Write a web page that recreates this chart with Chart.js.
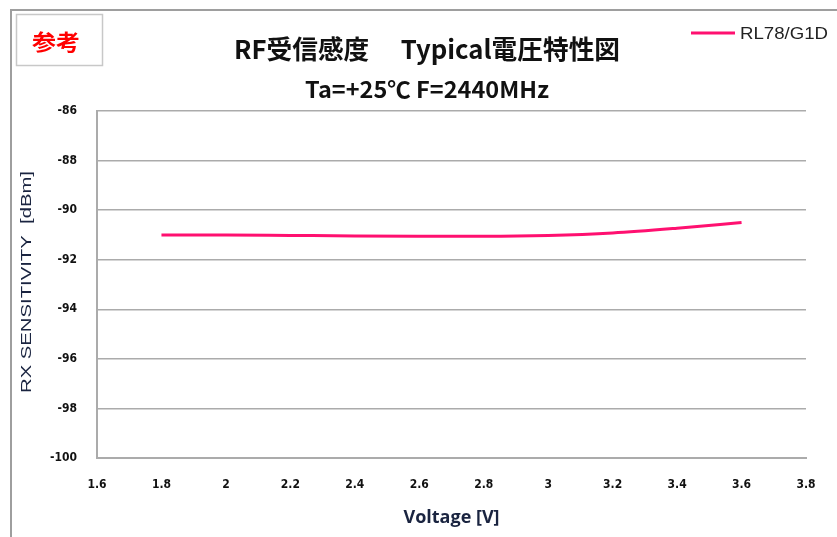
<!DOCTYPE html>
<html>
<head>
<meta charset="utf-8">
<script src="https://cdn.jsdelivr.net/npm/chart.js@4/dist/chart.umd.min.js"></script>
<style>
  html, body { margin: 0; padding: 0; background: #fff; }
  #wrap { position: relative; width: 837px; height: 537px; }
  canvas { display: block; }
</style>
</head>
<body>
<div id="wrap"><canvas id="c" width="837" height="537"></canvas></div>
<script>
// Supply voltage (V) and measured RX sensitivity (dBm)
const voltages = [1.8, 2.0, 2.2, 2.4, 2.6, 2.8, 3.0, 3.2, 3.4, 3.6];
const sensitivity = [-91.0, -91.0, -91.02, -91.04, -91.05, -91.05, -91.02, -90.92, -90.73, -90.5];

const seriesName = 'RL78/G1D';
const titleText = 'RF受信感度\u3000 Typical電圧特性図';
const subtitleText = 'Ta=+25\u2103 F=2440MHz';
const stampText = '参考';
const xAxisTitle = 'Voltage [V]';
const yAxisTitle = 'RX SENSITIVITY  [dBm]';

const lineColor = '#ff1070';
const gridColor = '#ababab';
const tickFont = { family: "'Liberation Sans Narrow', 'DejaVu Sans Condensed', 'Liberation Sans', sans-serif", size: 12, weight: 'bold' };
const jpFont = "'Noto Sans CJK JP', 'Noto Sans', sans-serif";

// Write text centred at (x, y), squeezed or stretched horizontally to a given width
function fitText(ctx, text, x, y, width, align) {
  const w = ctx.measureText(text).width;
  const k = width / w;
  ctx.save();
  ctx.translate(x, y);
  ctx.scale(k, 1);
  ctx.textAlign = align || 'center';
  ctx.fillText(text, 0, 0);
  ctx.restore();
}

// Frame, stamp box, titles and legend drawn around the plot
const decorations = {
  id: 'decorations',
  beforeDraw(chart) {
    const ctx = chart.ctx;
    ctx.save();
    ctx.fillStyle = '#fff';
    ctx.fillRect(0, 0, chart.width, chart.height);
    // outer frame
    ctx.strokeStyle = '#9e9e9e';
    ctx.lineWidth = 2;
    ctx.beginPath();
    ctx.moveTo(11, chart.height);
    ctx.lineTo(11, 10);
    ctx.lineTo(chart.width, 10);
    ctx.stroke();
    ctx.restore();
  },
  afterDraw(chart) {
    const ctx = chart.ctx;
    ctx.save();
    ctx.textBaseline = 'middle';

    // stamp box
    ctx.strokeStyle = '#c8c8c8';
    ctx.lineWidth = 1.5;
    ctx.strokeRect(16.5, 14.5, 86, 51);
    ctx.fillStyle = '#ff0000';
    ctx.font = "bold 22px " + jpFont;
    fitText(ctx, stampText, 56, 42, 48);

    // title and subtitle
    ctx.fillStyle = '#111';
    ctx.font = "bold 26px " + jpFont;
    fitText(ctx, titleText, 427, 49, 386);
    ctx.font = "bold 23px " + jpFont;
    fitText(ctx, subtitleText, 427, 89, 244);

    // vertical axis title
    ctx.fillStyle = '#1a2440';
    ctx.font = "14px 'Liberation Sans', sans-serif";
    ctx.save();
    ctx.translate(27, 282);
    ctx.rotate(-Math.PI / 2);
    fitText(ctx, chart.options.scales.y.title.text, 0, 0, 222);
    ctx.restore();

    // legend
    const ds = chart.data.datasets[0];
    ctx.strokeStyle = ds.borderColor;
    ctx.lineWidth = 3;
    ctx.beginPath();
    ctx.moveTo(691, 33);
    ctx.lineTo(735, 33);
    ctx.stroke();
    ctx.fillStyle = '#222';
    ctx.font = "16px 'Liberation Sans', sans-serif";
    fitText(ctx, ds.label, 740, 35, 88, 'left');
    ctx.restore();
  }
};

new Chart(document.getElementById('c'), {
  type: 'line',
  data: {
    datasets: [{
      label: seriesName,
      data: voltages.map((v, i) => ({ x: v, y: sensitivity[i] })),
      borderColor: lineColor,
      backgroundColor: lineColor,
      borderWidth: 3,
      pointRadius: 0,
      cubicInterpolationMode: 'monotone',
      fill: false
    }]
  },
  options: {
    responsive: false,
    animation: false,
    devicePixelRatio: 1,
    layout: { padding: { left: 0, top: 111, right: 31, bottom: 0 } },
    plugins: {
      legend: { display: false },
      title: { display: false },
      tooltip: { enabled: false }
    },
    scales: {
      x: {
        type: 'linear',
        min: 1.6,
        max: 3.8,
        ticks: {
          stepSize: 0.2,
          color: '#111',
          font: tickFont,
          padding: 20,
          callback: v => String(Math.round(v * 10) / 10)
        },
        grid: { display: false, drawTicks: false },
        border: { display: true, color: gridColor, width: 2 },
        title: {
          display: true,
          text: xAxisTitle,
          color: '#1a2440',
          font: { family: "'Open Sans', 'Liberation Sans', sans-serif", size: 18, weight: 'bold' },
          padding: { top: 0, bottom: 8 }
        },
        afterFit(scale) { scale.height = 79; }
      },
      y: {
        min: -100,
        max: -86,
        ticks: {
          stepSize: 2,
          color: '#111',
          font: tickFont,
          padding: 20
        },
        grid: { color: gridColor, lineWidth: 1.5, drawTicks: false },
        border: { display: true, color: gridColor, width: 2 },
        title: { display: false, text: yAxisTitle },
        afterFit(scale) { scale.width = 97; }
      }
    }
  },
  plugins: [decorations]
});
</script>
</body>
</html>
